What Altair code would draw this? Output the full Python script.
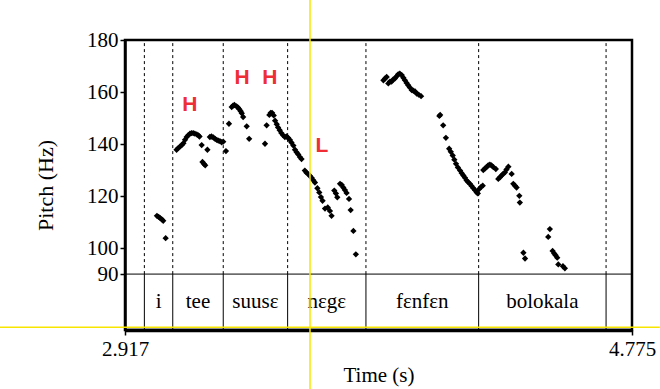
import altair as alt
import pandas as pd

# ---------------- data ----------------
times = [
    3.034, 3.040, 3.046, 3.052, 3.057, 3.066,
    3.106, 3.112, 3.119, 3.125, 3.131, 3.137, 3.143, 3.149, 3.155, 3.161, 3.167, 3.173,
    3.180, 3.186, 3.190, 3.198, 3.201, 3.206, 3.211, 3.219, 3.228, 3.234, 3.241, 3.247,
    3.253, 3.259, 3.265, 3.271, 3.277, 3.287,
    3.298, 3.308, 3.313, 3.318, 3.326, 3.331, 3.336, 3.341, 3.345, 3.350, 3.363, 3.372,
    3.430, 3.436, 3.446, 3.451, 3.456, 3.462, 3.467, 3.473, 3.478, 3.484, 3.490, 3.497,
    3.503, 3.509, 3.515, 3.521, 3.527, 3.534, 3.540, 3.546, 3.552, 3.558, 3.564, 3.576,
    3.582, 3.589, 3.595, 3.601, 3.607, 3.613, 3.622, 3.629, 3.635, 3.641, 3.650, 3.660,
    3.668, 3.674, 3.684, 3.690, 3.695, 3.705, 3.711, 3.717, 3.723, 3.729, 3.738, 3.744,
    3.754, 3.763,
    3.864, 3.870, 3.876, 3.882, 3.888, 3.894, 3.900, 3.906, 3.912, 3.918, 3.924, 3.931,
    3.937, 3.943, 3.949, 3.955, 3.961, 3.968, 3.974, 3.980, 3.986, 3.993, 4.002,
    4.069, 4.072, 4.083, 4.093, 4.105, 4.111, 4.118, 4.124, 4.130, 4.137, 4.145, 4.151,
    4.157, 4.163, 4.169, 4.175, 4.181, 4.187, 4.193, 4.200, 4.206, 4.210, 4.215, 4.222,
    4.228,
    4.230, 4.236, 4.242, 4.248, 4.254, 4.260, 4.267, 4.276, 4.285, 4.291, 4.297, 4.303,
    4.309, 4.315, 4.322, 4.334, 4.340, 4.346, 4.352, 4.362, 4.364, 4.377, 4.383,
    4.468, 4.474, 4.484, 4.490, 4.495, 4.501, 4.505, 4.522, 4.529,
]
pitches = [
    112.4, 112.0, 111.5, 111.0, 110.5, 103.8,
    137.8, 138.4, 139.1, 139.6, 140.3, 141.6, 142.7, 143.4, 144.0, 144.2, 144.2, 144.0,
    143.7, 143.3, 142.9, 139.6, 133.1, 132.4, 131.8, 137.8, 142.7, 142.9, 142.5, 142.0,
    141.6, 141.3, 141.1, 140.7, 140.9, 137.3,
    147.8, 154.2, 154.8, 155.0, 154.5, 154.0, 153.4, 152.6, 151.8, 150.4, 146.8, 142.0,
    140.1, 147.2, 151.2, 152.0, 152.0, 151.0, 149.0, 147.6, 146.4, 145.3, 144.2, 143.3,
    142.7, 142.9, 142.4, 141.6, 140.6, 139.4, 137.8, 136.8, 136.0, 135.0, 134.2, 129.8,
    129.0, 128.4, 127.7, 127.0, 126.1, 125.2, 123.0, 121.4, 119.6, 118.2, 115.2, 115.6,
    114.3, 112.4, 122.1, 121.0, 119.5, 124.7, 124.3, 123.3, 122.3, 121.2, 118.9, 114.6,
    106.6, 97.6,
    164.5, 165.2, 165.8, 163.3, 164.0, 164.0, 164.8, 165.2, 166.0, 166.8, 167.1, 166.5,
    165.5, 164.5, 163.5, 162.6, 161.7, 160.7, 160.5, 160.2, 159.4, 159.0, 158.4,
    150.8, 151.2, 147.2, 142.4, 138.2, 137.0, 135.6, 134.0, 132.4, 131.0, 129.8, 128.8,
    127.9, 127.0, 126.0, 125.3, 124.7, 123.9, 123.1, 122.2, 121.4, 121.0, 122.7, 123.5,
    124.0,
    130.0, 130.6, 131.1, 131.8, 132.1, 131.8, 131.1, 130.4, 126.6, 127.2, 127.9, 128.5,
    129.1, 130.2, 131.3, 128.5, 124.7, 124.0, 123.3, 120.1, 117.5, 98.2, 96.0,
    104.3, 107.3, 98.9, 97.9, 97.2, 96.3, 93.7, 93.0, 92.2,
]

# word tier
tier_edges = [2.917, 2.988, 3.092, 3.277, 3.513, 3.800, 4.213, 4.680, 4.775]
tier_labels = ["", "i", "tee", "suusɛ", "nɛgɛ", "fɛnfɛn", "bolokala", ""]
tier_text_pitch = 79.2

# tone labels
tone_labels = ["H", "H", "H", "L"]
tone_times = [3.155, 3.346, 3.448, 3.639]
tone_pitches = [154.9, 165.3, 165.3, 139.1]

# axes
x_domain = [2.917, 4.775]
y_domain = [68.5, 180]
y_ticks = [90, 100, 120, 140, 160, 180]
x_ticks = [2.917, 4.775]
tier_top = 90

# cursor (yellow) lines
cursor_time = 3.595
cursor_pitch_span = [45.8, 195.4]
cursor_pitch = 69.6
cursor_time_span = [2.459, 4.877]

# ---------------- tables ----------------
pts = pd.DataFrame({"time": times, "pitch": pitches})
inner = tier_edges[1:-1]
bounds = pd.DataFrame({"time": inner, "lo": [y_domain[0]] * len(inner),
                       "mid": [tier_top] * len(inner), "hi": [y_domain[1]] * len(inner)})
words = pd.DataFrame({
    "time": [(a + b) / 2 for a, b in zip(tier_edges[:-1], tier_edges[1:])],
    "pitch": [tier_text_pitch] * len(tier_labels),
    "label": tier_labels,
})
tones = pd.DataFrame({"time": tone_times, "pitch": tone_pitches, "label": tone_labels})
hline = pd.DataFrame({"x1": [x_domain[0]], "x2": [x_domain[1]], "y": [tier_top]})
vcur = pd.DataFrame({"time": [cursor_time], "y1": [cursor_pitch_span[0]], "y2": [cursor_pitch_span[1]]})
hcur = pd.DataFrame({"x1": [cursor_time_span[0]], "x2": [cursor_time_span[1]], "y": [cursor_pitch]})

SERIF = "Liberation Serif"
xs = alt.Scale(domain=x_domain, nice=False, zero=False)
ys = alt.Scale(domain=y_domain, nice=False, zero=False)
xaxis = alt.Axis(values=x_ticks, format=".3f", title="Time (s)", grid=False,
                 labelFont=SERIF, labelFontSize=21, labelColor="black",
                 titleFont=SERIF, titleFontSize=21, titleFontWeight="normal",
                 titleColor="black", titlePadding=5, tickSize=5, tickColor="black",
                 tickWidth=1.5, domainColor="black", domainWidth=3.5, labelPadding=3,
                 labelFlush=False)
yaxis = alt.Axis(values=y_ticks, title="Pitch (Hz)", grid=False,
                 labelFont=SERIF, labelFontSize=21, labelColor="black",
                 titleFont=SERIF, titleFontSize=22, titleFontWeight="normal",
                 titleColor="black", titlePadding=29, tickSize=5, tickColor="black",
                 tickWidth=1.5, domainColor="black", domainWidth=2.5, labelPadding=2)

X = lambda f: alt.X(f, type="quantitative", scale=xs, axis=xaxis)
Y = lambda f: alt.Y(f, type="quantitative", scale=ys, axis=yaxis)

dashed = alt.Chart(bounds).mark_rule(color="black", strokeWidth=1, strokeDash=[3, 3]).encode(
    x=X("time"), y=Y("mid"), y2="hi")
solid = alt.Chart(bounds).mark_rule(color="black", strokeWidth=1).encode(
    x=X("time"), y=Y("lo"), y2="mid")
h90 = alt.Chart(hline).mark_rule(color="black", strokeWidth=1).encode(
    x=X("x1"), x2="x2", y=Y("y"))
points = alt.Chart(pts).mark_point(shape="diamond", filled=True, color="black",
                                    size=40, opacity=1).encode(x=X("time"), y=Y("pitch"))
tone_text = alt.Chart(tones).mark_text(font="Liberation Sans", fontWeight="bold",
                                       fontSize=21, color="#ee2d36").encode(
    x=X("time"), y=Y("pitch"), text="label")
word_text = alt.Chart(words).mark_text(font=SERIF, fontSize=21, color="black").encode(
    x=X("time"), y=Y("pitch"), text="label")
ycur_v = alt.Chart(vcur).mark_rule(color="#f7e600", strokeWidth=1.5, clip=False).encode(
    x=X("time"), y=Y("y1"), y2="y2")
ycur_h = alt.Chart(hcur).mark_rule(color="#f7e600", strokeWidth=1.5, clip=False).encode(
    x=X("x1"), x2="x2", y=Y("y"))

chart = alt.layer(dashed, solid, h90, ycur_h, points, tone_text, word_text, ycur_v).properties(
    width=507, height=290,
    autosize=alt.AutoSizeParams(type="none"),
    padding={"left": 125, "top": 40, "right": 28, "bottom": 59},
    background="white",
).configure_view(stroke="black", strokeWidth=2.5)

chart.save("out.html", embed_options={"renderer": "svg", "actions": False})
